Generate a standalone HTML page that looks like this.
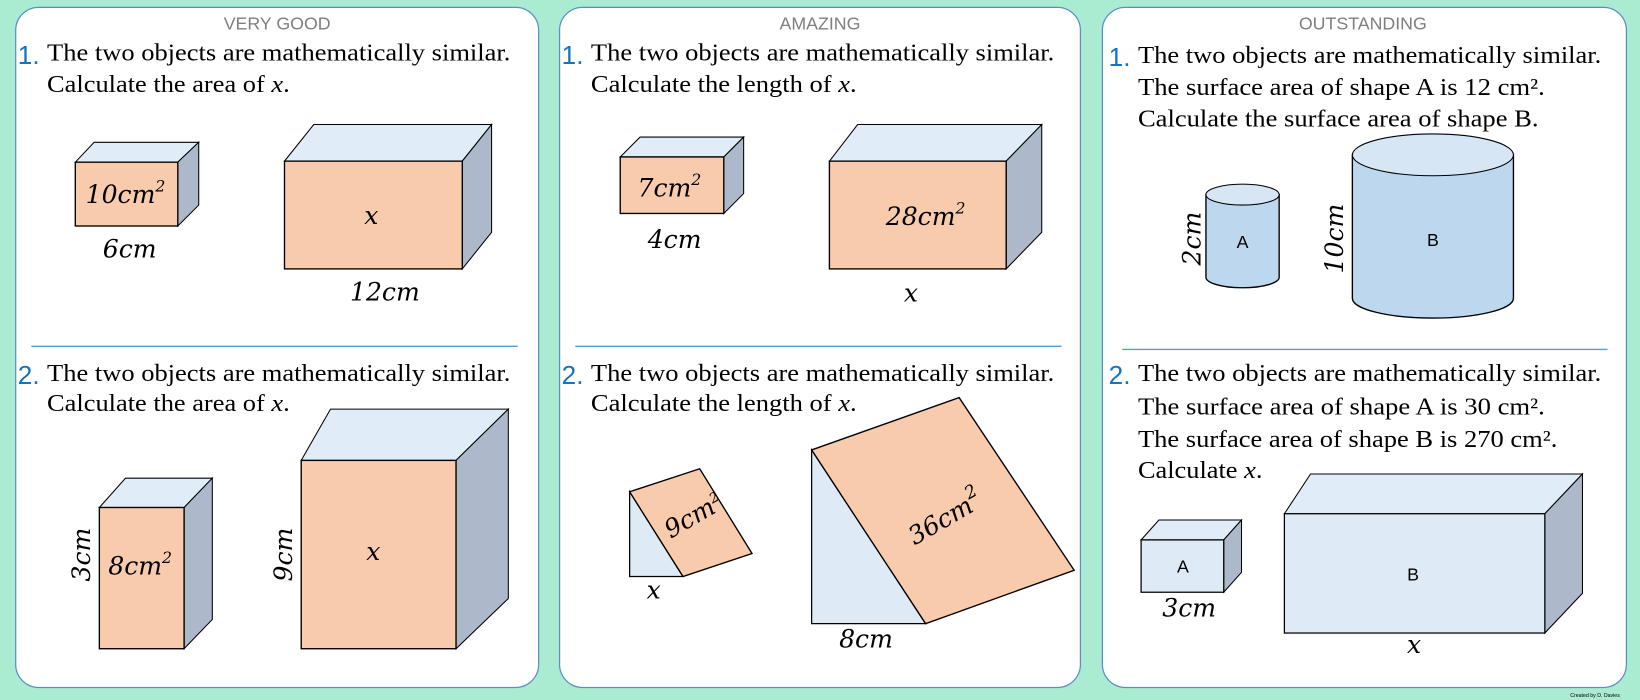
<!DOCTYPE html>
<html><head><meta charset="utf-8"><style>
html,body{margin:0;padding:0;background:#a9ecd1;}
svg{display:block}
.t{font-family:"Liberation Serif",serif;font-size:23px;fill:#000}
.n{font-family:"Liberation Sans",sans-serif;font-size:25px;fill:#1273c2}
.h{font-family:"Liberation Sans",sans-serif;font-size:17px;fill:#7f7f7f}
.m{font-family:"DejaVu Serif",serif;font-style:italic;font-size:24px;fill:#000}
.s{font-family:"Liberation Sans",sans-serif;font-size:17px;fill:#000}
.o{fill:#f8cbad;stroke:#000;stroke-width:1.3}
.tp{fill:#e0ecf8;stroke:#000;stroke-width:1}
.rt{fill:#adb9ca;stroke:#000;stroke-width:1}
.lb{fill:#deebf7;stroke:#000;stroke-width:1.2}
.cy{fill:#bdd7ee;stroke:#000;stroke-width:1.3}
.ln{stroke:#5b9bd5;stroke-width:1.3}
</style></head><body>
<svg width="1640" height="700" viewBox="0 0 1568 669" preserveAspectRatio="none" xmlns="http://www.w3.org/2000/svg">
<rect width="1568" height="669" fill="#a9ecd1"/>
<rect x="15" y="7" width="500" height="650" rx="22" fill="#fff" stroke="#5b8ec4" stroke-width="1.2"/>
<rect x="535" y="7" width="498" height="650" rx="22" fill="#fff" stroke="#5b8ec4" stroke-width="1.2"/>
<rect x="1054" y="7" width="501" height="650" rx="22" fill="#fff" stroke="#5b8ec4" stroke-width="1.2"/>

<text class="h" x="265" y="28" text-anchor="middle">VERY GOOD</text>
<text class="h" x="784" y="28" text-anchor="middle">AMAZING</text>
<text class="h" x="1303" y="28" text-anchor="middle">OUTSTANDING</text>

<!-- Panel 1 -->
<text class="n" x="17" y="61">1.</text>
<text class="t" x="45" y="58" textLength="443" lengthAdjust="spacingAndGlyphs">The two objects are mathematically similar.</text>
<text class="t" x="45" y="88" textLength="232" lengthAdjust="spacingAndGlyphs">Calculate the area of <tspan font-style="italic">x</tspan>.</text>
<polygon class="tp" points="72,155 90,136 190,136 170,155"/>
<polygon class="rt" points="170,155 190,136 190,196 170,216"/>
<rect class="o" x="72" y="155" width="98" height="61"/>
<text class="m" x="120" y="194" text-anchor="middle">10cm<tspan font-size="15" dy="-11">2</tspan></text>
<text class="m" x="124" y="246" text-anchor="middle">6cm</text>
<polygon class="tp" points="272,154 300,119 470,119 442,154"/>
<polygon class="rt" points="442,154 470,119 470,222 442,257"/>
<rect class="o" x="272" y="154" width="170" height="103"/>
<text class="m" x="355" y="214" text-anchor="middle">x</text>
<text class="m" x="368" y="287" text-anchor="middle">12cm</text>
<line class="ln" x1="30" y1="331" x2="495" y2="331"/>
<text class="n" x="17" y="367">2.</text>
<text class="t" x="45" y="364" textLength="443" lengthAdjust="spacingAndGlyphs">The two objects are mathematically similar.</text>
<text class="t" x="45" y="393" textLength="232" lengthAdjust="spacingAndGlyphs">Calculate the area of <tspan font-style="italic">x</tspan>.</text>
<polygon class="tp" points="95,485 120,457 203,457 176,485"/>
<polygon class="rt" points="176,485 203,457 203,592 176,620"/>
<rect class="o" x="95" y="485" width="81" height="135"/>
<text class="m" x="134" y="549" text-anchor="middle">8cm<tspan font-size="15" dy="-11">2</tspan></text>
<text class="m" transform="translate(86,530) rotate(-90)" text-anchor="middle">3cm</text>
<polygon class="tp" points="288,440 316,391 486,391 436,440"/>
<polygon class="rt" points="436,440 486,391 486,572 436,620"/>
<rect class="o" x="288" y="440" width="148" height="180"/>
<text class="m" x="357" y="535" text-anchor="middle">x</text>
<text class="m" transform="translate(279,530) rotate(-90)" text-anchor="middle">9cm</text>

<!-- Panel 2 -->
<text class="n" x="537" y="61">1.</text>
<text class="t" x="565" y="58" textLength="443" lengthAdjust="spacingAndGlyphs">The two objects are mathematically similar.</text>
<text class="t" x="565" y="88" textLength="254" lengthAdjust="spacingAndGlyphs">Calculate the length of <tspan font-style="italic">x</tspan>.</text>
<polygon class="tp" points="593,150 612,131 711,131 692,150"/>
<polygon class="rt" points="692,150 711,131 711,185 692,204"/>
<rect class="o" x="593" y="150" width="99" height="54"/>
<text class="m" x="640" y="188" text-anchor="middle">7cm<tspan font-size="15" dy="-11">2</tspan></text>
<text class="m" x="645" y="237" text-anchor="middle">4cm</text>
<polygon class="tp" points="793,154 820,119 996,119 962,154"/>
<polygon class="rt" points="962,154 996,119 996,222 962,257"/>
<rect class="o" x="793" y="154" width="169" height="103"/>
<text class="m" x="885" y="215" text-anchor="middle">28cm<tspan font-size="15" dy="-11">2</tspan></text>
<text class="m" x="871" y="288" text-anchor="middle">x</text>
<line class="ln" x1="550" y1="331" x2="1015" y2="331"/>
<text class="n" x="537" y="367">2.</text>
<text class="t" x="565" y="364" textLength="443" lengthAdjust="spacingAndGlyphs">The two objects are mathematically similar.</text>
<text class="t" x="565" y="393" textLength="254" lengthAdjust="spacingAndGlyphs">Calculate the length of <tspan font-style="italic">x</tspan>.</text>
<polygon class="lb" points="602,470 602,551 653,551"/>
<polygon class="o" points="602,470 669,448 719,529 653,551"/>
<text class="m" font-size="20" transform="translate(667,500) rotate(-30)" text-anchor="middle">9cm<tspan font-size="13" dy="-9">2</tspan></text>
<text class="m" x="625" y="572" text-anchor="middle">x</text>
<polygon class="lb" points="776,430 776,596 885,596"/>
<polygon class="o" points="776,430 917,380 1027,545 885,596"/>
<text class="m" font-size="27" transform="translate(908,502) rotate(-30)" text-anchor="middle">36cm<tspan font-size="17" dy="-12">2</tspan></text>
<text class="m" x="828" y="619" text-anchor="middle">8cm</text>

<!-- Panel 3 -->
<text class="n" x="1060" y="63">1.</text>
<text class="t" x="1088" y="60" textLength="443" lengthAdjust="spacingAndGlyphs">The two objects are mathematically similar.</text>
<text class="t" x="1088" y="91" textLength="389" lengthAdjust="spacingAndGlyphs">The surface area of shape A is 12 cm².</text>
<text class="t" x="1088" y="121" textLength="383" lengthAdjust="spacingAndGlyphs">Calculate the surface area of shape B.</text>
<path class="cy" d="M1153,186 L1153,265 A35,10 0 0 0 1223,265 L1223,186 Z"/>
<ellipse cx="1188" cy="186" rx="35" ry="10" fill="#d6e6f5" stroke="#000" stroke-width="1"/>
<text class="s" x="1188" y="237" text-anchor="middle">A</text>
<text class="m" transform="translate(1148,228) rotate(-90)" text-anchor="middle">2cm</text>
<path class="cy" d="M1293,148 L1293,285 A77,19 0 0 0 1447,285 L1447,148 Z"/>
<ellipse cx="1370" cy="148" rx="77" ry="20" fill="#d6e6f5" stroke="#000" stroke-width="1"/>
<text class="s" x="1370" y="235" text-anchor="middle">B</text>
<text class="m" transform="translate(1284,228) rotate(-90)" text-anchor="middle">10cm</text>
<line class="ln" x1="1073" y1="334" x2="1537" y2="334"/>
<text class="n" x="1060" y="367">2.</text>
<text class="t" x="1088" y="364" textLength="443" lengthAdjust="spacingAndGlyphs">The two objects are mathematically similar.</text>
<text class="t" x="1088" y="396" textLength="389" lengthAdjust="spacingAndGlyphs">The surface area of shape A is 30 cm².</text>
<text class="t" x="1088" y="427" textLength="401" lengthAdjust="spacingAndGlyphs">The surface area of shape B is 270 cm².</text>
<text class="t" x="1088" y="457" textLength="119" lengthAdjust="spacingAndGlyphs">Calculate <tspan font-style="italic">x</tspan>.</text>
<polygon class="tp" points="1091,516 1108,497 1187,497 1170,516"/>
<polygon class="rt" points="1170,516 1187,497 1187,547 1170,566"/>
<rect class="lb" x="1091" y="516" width="79" height="50"/>
<text class="s" x="1131" y="547" text-anchor="middle">A</text>
<text class="m" x="1137" y="589" text-anchor="middle">3cm</text>
<polygon class="tp" points="1228,491 1253,453 1513,453 1477,491"/>
<polygon class="rt" points="1477,491 1513,453 1513,567 1477,605"/>
<rect class="lb" x="1228" y="491" width="249" height="114"/>
<text class="s" x="1351" y="555" text-anchor="middle">B</text>
<text class="m" x="1352" y="624" text-anchor="middle">x</text>
<text x="1525" y="666" font-family="Liberation Sans,sans-serif" font-size="5" fill="#000" text-anchor="middle">Created by D. Davies</text>
</svg>
</body></html>
